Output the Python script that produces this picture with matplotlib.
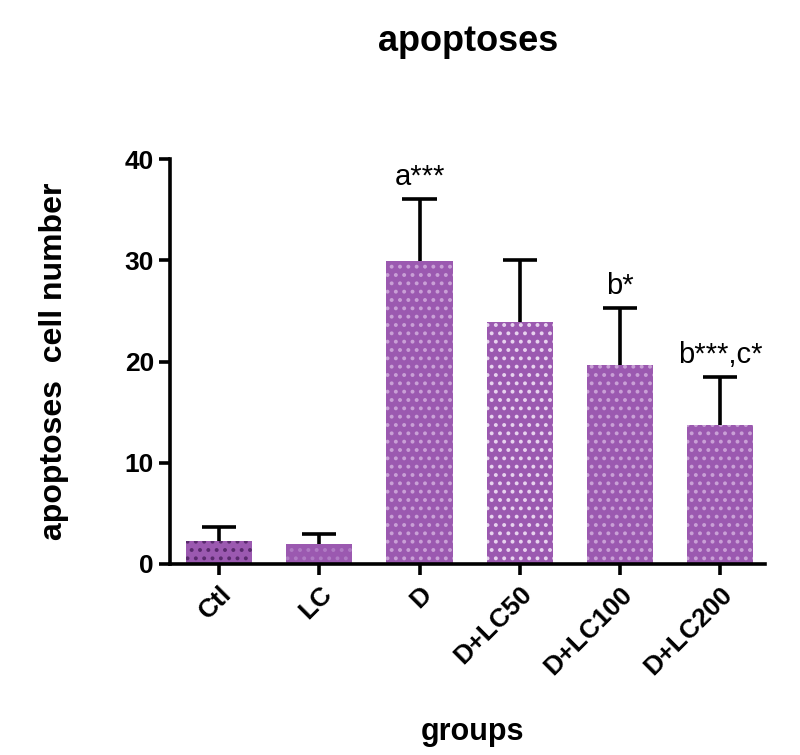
import matplotlib
matplotlib.use('Agg')

import matplotlib.pyplot as plt
import numpy as np

plt.rcParams['font.family'] = ['Liberation Sans', 'DejaVu Sans']
plt.rcParams['hatch.linewidth'] = 1.6

# ---------------------------
# DATA
# ---------------------------
groups = ["Ctl", "LC", "D", "D+LC50", "D+LC100", "D+LC200"]
means = [2.3, 2.0, 29.9, 23.9, 19.7, 13.7]
sd = [1.4, 1.0, 6.2, 6.1, 5.6, 4.8]
labels = ["", "", "a***", "", "b*", "b***,c*"]

bar_color = "#9b59b0"
hatch_colors = ["#5a2a6e", "#b07cc4", "#c9a0d6", "#e7d3ee", "#c9a0d6", "#c9a0d6"]

# ---------------------------
# FIGURE
# ---------------------------
fig = plt.figure(figsize=(8, 7.55), dpi=100)
ax = fig.add_axes([0.2125, 0.253, 0.744, 0.536])

x = np.arange(len(groups))
for i in range(len(groups)):
    ax.bar(x[i], means[i], width=0.66, color=bar_color,
           edgecolor=hatch_colors[i], linewidth=0, hatch='..', zorder=2)

# error bars, upper half only
tops = np.array(means) + np.array(sd)
ax.vlines(x, means, tops, color='black', linewidth=2.6, zorder=3)
ax.hlines(tops, x - 0.17, x + 0.17, color='black', linewidth=2.6, zorder=3)

for i, lab in enumerate(labels):
    if lab:
        ax.text(x[i], tops[i] + 0.8, lab, ha='center', va='bottom',
                fontsize=21)

ax.set_xlim(-0.49, 5.45)
ax.set_ylim(0, 40)
ax.set_yticks([0, 10, 20, 30, 40])
ax.set_xticks(x)
ax.set_xticklabels(groups, rotation=45, ha='right', rotation_mode='anchor',
                   fontsize=19, fontweight='bold')
for t in ax.get_yticklabels():
    t.set_fontsize(19)
    t.set_fontweight('bold')

for s in ['top', 'right']:
    ax.spines[s].set_visible(False)
for s in ['left', 'bottom']:
    ax.spines[s].set_linewidth(2.6)
ax.tick_params(axis='both', length=8, width=2.6, direction='out')
ax.tick_params(axis='x', pad=5)

ax.set_ylabel("apoptoses  cell number", fontsize=23, fontweight='bold', labelpad=40)
fig.text(0.59, 0.02, "groups", ha='center', fontsize=22, fontweight='bold')
fig.text(0.585, 0.932, "apoptoses", ha='center', fontsize=26, fontweight='bold')

fig.savefig("out.png", dpi=100)
